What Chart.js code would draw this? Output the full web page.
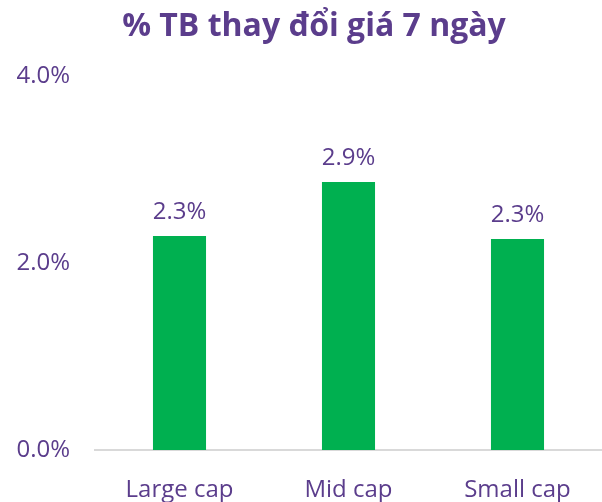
<!DOCTYPE html>
<html>
<head>
<meta charset="utf-8">
<script src="https://cdn.jsdelivr.net/npm/chart.js@4.4.0/dist/chart.umd.min.js"></script>
<style>
html,body{margin:0;padding:0;background:#fff;}
#wrap{width:602px;height:502px;}
</style>
</head>
<body>
<div id="wrap"><canvas id="c" width="602" height="502"></canvas></div>
<script>
const categories = ["Large cap", "Mid cap", "Small cap"];
const values = [2.29, 2.87, 2.26];
const yTicks = [0, 2, 4];
const titleText = "% TB thay đổi giá 7 ngày";

const PURPLE = "#5B3D8C";
const FONT = "'Open Sans', sans-serif";

const labelPlugin = {
  id: 'barLabels',
  afterLayout(chart) {
    // shift the title's box so it is centred a little to the right, as in the reference
    if (chart.titleBlock) chart.titleBlock.left += 26;
  },
  afterDatasetsDraw(chart) {
    const ctx = chart.ctx;
    const meta = chart.getDatasetMeta(0);
    ctx.save();
    ctx.font = "24px " + FONT;
    ctx.fillStyle = PURPLE;
    ctx.textAlign = 'center';
    ctx.textBaseline = 'middle';
    meta.data.forEach((bar, i) => {
      ctx.fillText(values[i].toFixed(1) + '%', bar.x, bar.y - 24);
    });
    ctx.restore();
  }
};

new Chart(document.getElementById('c'), {
  type: 'bar',
  data: {
    labels: categories,
    datasets: [{
      data: values,
      backgroundColor: '#00B050',
      borderWidth: 0,
      barPercentage: 0.314,
      categoryPercentage: 1.0
    }]
  },
  options: {
    responsive: false,
    animation: false,
    layout: { padding: { left: 0, right: 0, top: 0, bottom: 0 } },
    plugins: {
      legend: { display: false },
      tooltip: { enabled: false },
      title: {
        display: true,
        text: titleText,
        color: PURPLE,
        font: { family: FONT, size: 32, weight: 'bold' },
        padding: { top: 8, bottom: 30 }
      }
    },
    scales: {
      x: {
        afterFit(scale) { scale.height = 52; },
        grid: { display: false },
        border: { display: true, color: '#D9D9D9', width: 2 },
        ticks: { color: PURPLE, font: { family: FONT, size: 24 }, padding: 18 }
      },
      y: {
        min: 0, max: 4,
        afterBuildTicks(scale) { scale.ticks = yTicks.map(v => ({ value: v })); },
        afterFit(scale) { scale.width = 95; },
        grid: { display: false },
        border: { display: false },
        ticks: {
          color: PURPLE,
          font: { family: FONT, size: 24 },
          padding: 17,
          callback: v => Number(v).toFixed(1) + '%'
        }
      }
    }
  },
  plugins: [labelPlugin]
});
</script>
</body>
</html>
